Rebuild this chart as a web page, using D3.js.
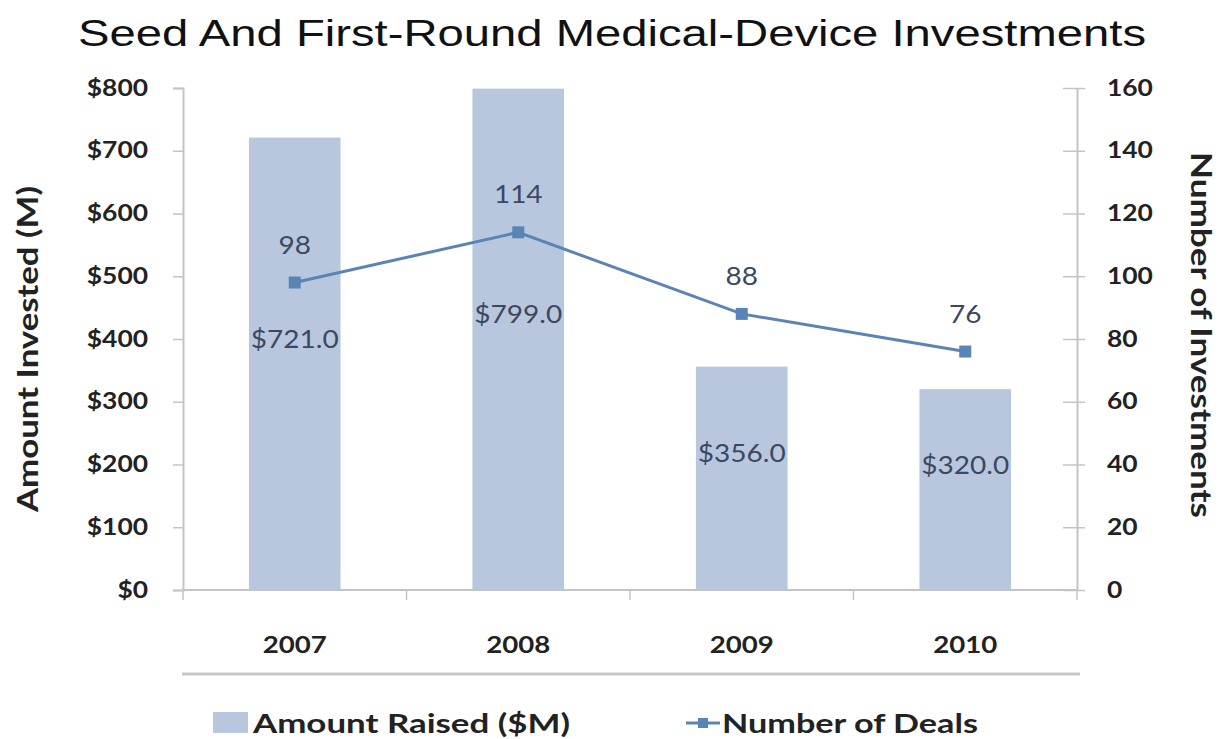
<!DOCTYPE html>
<html>
<head>
<meta charset="utf-8">
<script src="https://cdn.jsdelivr.net/npm/d3@7"></script>
<style>
  body { margin: 0; background: #fff; }
  svg { display: block; }
</style>
</head>
<body>
<svg id="chart"></svg>
<script>
// chart data
var years = ["2007", "2008", "2009", "2010"];
var amountRaised = [721, 799, 356, 320];
var numDeals = [98, 114, 88, 76];
var leftTicks = [0, 100, 200, 300, 400, 500, 600, 700, 800];
var rightTicks = [0, 20, 40, 60, 80, 100, 120, 140, 160];

var width = 1222, height = 739;
var plotLeft = 183, plotRight = 1077, plotTop = 88, plotBottom = 590;
var barColor = "#b8c7de";
var lineColor = "#5b84b6";
var axisColor = "#c4c4c4";
var labelFont = "Lato, 'Open Sans', sans-serif";
var stretch = 1.2;   // the picture is wider than the font is

var svg = d3.select("#chart")
    .attr("width", width)
    .attr("height", height);

// scales
var x = d3.scaleBand().domain(years).range([plotLeft, plotRight]).paddingInner(0.59).paddingOuter(0.295);
var xc = d3.scaleBand().domain(years).range([plotLeft, plotRight]);
var yL = d3.scaleLinear().domain([0, 800]).range([plotBottom, plotTop]);
var yR = d3.scaleLinear().domain([0, 160]).range([plotBottom, plotTop]);
function mid(i) { return xc(years[i]) + xc.bandwidth() / 2; }

// stretched text helper
function label(g, px, py, str, size, weight, fill, anchor, sx) {
    return g.append("text")
        .attr("transform", "translate(" + px + "," + py + ") scale(" + sx + ",1)")
        .attr("text-anchor", anchor)
        .style("font-family", labelFont)
        .style("font-size", size + "px")
        .style("font-weight", weight)
        .style("fill", fill)
        .text(str);
}

// title
svg.append("text")
    .attr("x", 78).attr("y", 46)
    .attr("textLength", 1068)
    .attr("lengthAdjust", "spacingAndGlyphs")
    .style("font-family", "'Liberation Sans', Arial, sans-serif")
    .style("font-size", "36px")
    .style("fill", "#111")
    .text("Seed And First-Round Medical-Device Investments");

// bars
svg.selectAll("rect.bar")
    .data(amountRaised)
    .enter().append("rect")
    .attr("class", "bar")
    .attr("x", function(d, i) { return x(years[i]); })
    .attr("y", function(d) { return yL(d); })
    .attr("width", x.bandwidth())
    .attr("height", function(d) { return plotBottom - yL(d); })
    .style("fill", barColor);

// left axis
var gL = svg.append("g").attr("transform", "translate(" + plotLeft + ",0)")
    .call(d3.axisLeft(yL).tickValues(leftTicks).tickSize(10).tickPadding(25)
        .tickFormat(function(d) { return "$" + d; }));
// right axis
var gR = svg.append("g").attr("transform", "translate(" + plotRight + ",0)")
    .call(d3.axisRight(yR).tickValues(rightTicks).tickSize(0).tickPadding(30));
gR.selectAll(".tick").append("line").attr("x1", -14).attr("x2", 8);

[gL, gR].forEach(function(g) {
    g.select(".domain").style("stroke", axisColor).style("stroke-width", 2);
    g.selectAll(".tick line").style("stroke", axisColor).style("stroke-width", 1.5);
    g.selectAll(".tick text")
        .attr("transform", function() {
            return "translate(" + this.getAttribute("x") + ",0) scale(" + stretch + ",1)";
        })
        .attr("x", 0)
        .style("font-family", labelFont)
        .style("font-size", "22px")
        .style("font-weight", "bold")
        .style("fill", "#222");
});

// bottom axis
var gB = svg.append("g").attr("transform", "translate(0," + plotBottom + ")");
gB.append("line").attr("x1", plotLeft).attr("x2", plotRight)
    .style("stroke", axisColor).style("stroke-width", 2);
gB.selectAll("line.cat")
    .data(years.concat(["end"]))
    .enter().append("line")
    .attr("class", "cat")
    .attr("x1", function(d, i) { return i < years.length ? xc(d) : plotRight; })
    .attr("x2", function(d, i) { return i < years.length ? xc(d) : plotRight; })
    .attr("y1", 0).attr("y2", 10)
    .style("stroke", axisColor).style("stroke-width", 1.5);
years.forEach(function(d, i) {
    label(gB, mid(i), 63, d, 23, "bold", "#222", "middle", stretch);
});

// axis titles
svg.append("text")
    .attr("transform", "translate(38,349) rotate(-90)")
    .attr("text-anchor", "middle")
    .attr("textLength", 326)
    .attr("lengthAdjust", "spacingAndGlyphs")
    .style("font-family", labelFont)
    .style("font-size", "29px")
    .style("font-weight", "bold")
    .style("fill", "#222")
    .text("Amount Invested (M)");
svg.append("text")
    .attr("transform", "translate(1191,335) rotate(90)")
    .attr("text-anchor", "middle")
    .attr("textLength", 366)
    .attr("lengthAdjust", "spacingAndGlyphs")
    .style("font-family", labelFont)
    .style("font-size", "28px")
    .style("font-weight", "bold")
    .style("fill", "#222")
    .text("Number of Investments");

// line series
var line = d3.line()
    .x(function(d, i) { return mid(i); })
    .y(function(d) { return yR(d); });
svg.append("path")
    .datum(numDeals)
    .attr("d", line)
    .style("fill", "none")
    .style("stroke", lineColor)
    .style("stroke-width", 3);
svg.selectAll("rect.marker")
    .data(numDeals)
    .enter().append("rect")
    .attr("class", "marker")
    .attr("x", function(d, i) { return mid(i) - 6; })
    .attr("y", function(d) { return yR(d) - 6; })
    .attr("width", 12).attr("height", 12)
    .style("fill", lineColor);

// data labels
var gLab = svg.append("g");
numDeals.forEach(function(d, i) {
    label(gLab, mid(i), yR(d) - 29, d, 25, "normal", "#3b4960", "middle", 1.12);
});
amountRaised.forEach(function(d, i) {
    label(gLab, mid(i), (yL(d) + plotBottom) / 2 - 16, "$" + d.toFixed(1), 25, "normal", "#3b4960", "middle", 1.12);
});

// separator above legend
svg.append("line")
    .attr("x1", 182).attr("x2", 1080).attr("y1", 674).attr("y2", 674)
    .style("stroke", "#c8c8c8").style("stroke-width", 3);

// legend
var lg = svg.append("g");
lg.append("rect").attr("x", 213).attr("y", 712).attr("width", 35).attr("height", 21).style("fill", barColor);
lg.append("text").attr("x", 253).attr("y", 733)
    .attr("textLength", 317).attr("lengthAdjust", "spacingAndGlyphs")
    .style("font-family", labelFont).style("font-size", "27px").style("font-weight", "bold").style("fill", "#222")
    .text("Amount Raised ($M)");
lg.append("line").attr("x1", 686).attr("x2", 720).attr("y1", 723).attr("y2", 723)
    .style("stroke", lineColor).style("stroke-width", 3);
lg.append("rect").attr("x", 698).attr("y", 718).attr("width", 10).attr("height", 10).style("fill", lineColor);
lg.append("text").attr("x", 722).attr("y", 733)
    .attr("textLength", 256).attr("lengthAdjust", "spacingAndGlyphs")
    .style("font-family", labelFont).style("font-size", "27px").style("font-weight", "bold").style("fill", "#222")
    .text("Number of Deals");
</script>
</body>
</html>
